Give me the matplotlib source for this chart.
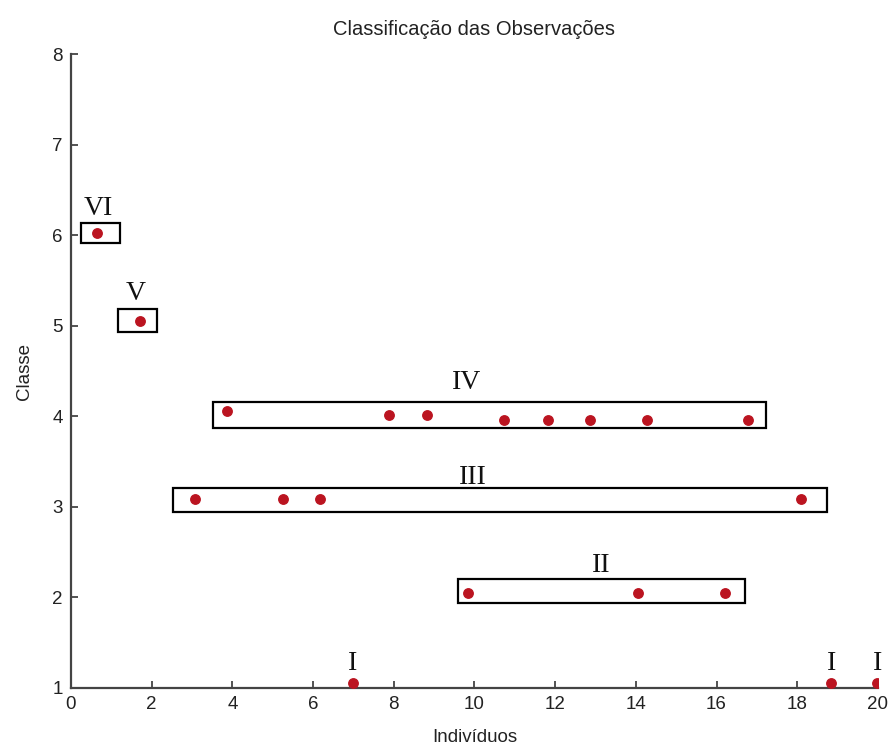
import matplotlib.pyplot as plt
from matplotlib.patches import Rectangle

# observations: individual position, class
obs_x = [0.65, 1.7,
         3.87, 7.88, 8.82, 10.73, 11.82, 12.86, 14.28, 16.78,
         3.07, 5.25, 6.17, 18.09,
         9.84, 14.05, 16.21,
         6.99, 18.84, 19.98]
obs_y = [6.02, 5.05,
         4.06, 4.01, 4.02, 3.96, 3.96, 3.96, 3.96, 3.96,
         3.09, 3.09, 3.09, 3.09,
         2.05, 2.05, 2.05,
         1.06, 1.06, 1.06]

# group boxes: (x0, x1, y0, y1)
boxes = [(0.25, 1.21, 5.91, 6.13),
         (1.16, 2.13, 4.93, 5.18),
         (3.52, 17.22, 3.87, 4.16),
         (2.53, 18.74, 2.94, 3.21),
         (9.59, 16.70, 1.94, 2.20)]

# group labels
lab_txt = ['VI', 'V', 'IV', 'III', 'II', 'I', 'I', 'I']
lab_x = [0.67, 1.61, 9.81, 9.96, 13.13, 6.99, 18.84, 19.98]
lab_y = [6.29, 5.36, 4.37, 3.32, 2.35, 1.27, 1.27, 1.27]

fig = plt.figure(figsize=(8.94, 7.51), dpi=100)
ax = fig.add_axes([0.0794, 0.0839, 0.9026, 0.8441])

ax.plot(obs_x, obs_y, 'o', color='#bb1420', markersize=6.8, zorder=3)

for x0, x1, y0, y1 in boxes:
    ax.add_patch(Rectangle((x0, y0), x1 - x0, y1 - y0, fill=False,
                           edgecolor='black', linewidth=1.6, zorder=2))

for t, x, y in zip(lab_txt, lab_x, lab_y):
    ax.text(x, y, t, ha='center', va='center', fontsize=20,
            family='Liberation Serif', color='#111111', clip_on=False)

ax.set_xlim(0, 20)
ax.set_ylim(1, 8)
ax.set_xticks(range(0, 21, 2))
ax.set_yticks(range(1, 9))
ax.spines['top'].set_visible(False)
ax.spines['right'].set_visible(False)
for s in ('left', 'bottom'):
    ax.spines[s].set_linewidth(1.6)
    ax.spines[s].set_color('#444444')
ax.tick_params(direction='in', length=5, width=1.3, labelsize=13.5,
               color='#444444', labelcolor='#222222', pad=6)
for lbl in ax.get_xticklabels() + ax.get_yticklabels():
    lbl.set_family('Liberation Sans')

ax.set_title('Classificação das Observações', fontsize=14.5,
             family='Liberation Sans', color='#222222', pad=14)
ax.set_xlabel('Indivíduos', fontsize=13.5, family='Liberation Sans',
              color='#222222', labelpad=11)
ax.set_ylabel('Classe', fontsize=13.5, family='Liberation Sans',
              color='#222222', labelpad=14)

fig.savefig('out.png', dpi=100)
